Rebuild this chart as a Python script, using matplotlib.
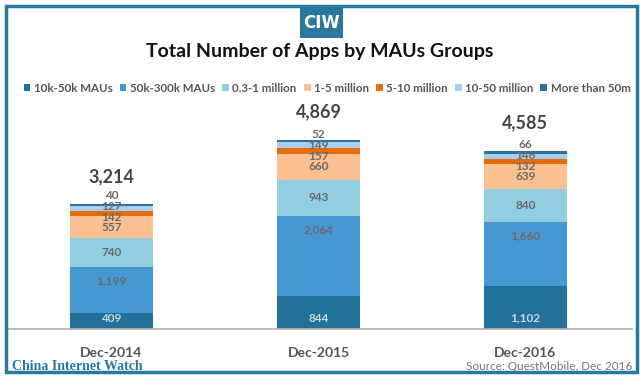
import numpy as np
import matplotlib.pyplot as plt
from matplotlib.patches import Patch, Rectangle

plt.rcParams['font.family'] = ['Lato', 'DejaVu Sans']

# 数据
years = ['Dec-2014', 'Dec-2015', 'Dec-2016']
groups = ['10k-50k MAUs', '50k-300k MAUs', '0.3-1 million', '1-5 million',
          '5-10 million', '10-50 million', 'More than 50m']
v_10k_50k = [409, 844, 1102]
v_50k_300k = [1199, 2064, 1660]
v_03_1m = [740, 943, 840]
v_1_5m = [557, 660, 639]
v_5_10m = [142, 157, 132]
v_10_50m = [127, 149, 146]
v_50m_plus = [40, 52, 66]
totals = [3214, 4869, 4585]

series = [v_10k_50k, v_50k_300k, v_03_1m, v_1_5m, v_5_10m, v_10_50m, v_50m_plus]
colors = ['#22719a', '#4598d2', '#92cde0', '#fac08f', '#e46c0a', '#a9cdee', '#2a7399']

W, H = 640, 386
fig = plt.figure(figsize=(W / 100, H / 100), dpi=100)

# 外框
fig.patches.append(Rectangle((6 / W, 14 / H), 631 / W, 366 / H, transform=fig.transFigure,
                             fill=False, edgecolor='#2a77a0', linewidth=2.5))
# CIW 标志
fig.patches.append(Rectangle((300 / W, 1 - 38 / H), 43 / W, 30 / H, transform=fig.transFigure,
                             facecolor='#2a77a0', edgecolor='none'))
fig.text(321.5 / W, 1 - 23 / H, 'CIW', color='white', fontsize=12, fontweight='bold',
         ha='center', va='center', family='Liberation Sans Narrow')

fig.text(0.5, 1 - 52 / H, 'Total Number of Apps by MAUs Groups', ha='center', va='center',
         fontsize=14, fontweight='bold', color='#111111')

ax = fig.add_axes([8 / W, 1 - 329 / H, 624 / W, 229 / H])
x = np.arange(len(years))
bottom = np.zeros(len(years))
# 1-5 million 段的中心，用于堆叠小段标签
mid_1_5m = np.array(v_10k_50k) + np.array(v_50k_300k) + np.array(v_03_1m) + np.array(v_1_5m) / 2
for i, (vals, c) in enumerate(zip(series, colors)):
    vals = np.array(vals)
    ax.bar(x, vals, 0.4, bottom=bottom, color=c, edgecolor='none')
    for j in range(len(years)):
        if i == 0:
            y, off, col = bottom[j], 11, '#cdd6de'
        elif i == 1:
            y, off, col = bottom[j] + vals[j], -14, '#6a6a6a'
        elif i in (2, 3):
            y, off, col = bottom[j] + vals[j] / 2, 0, '#6a6a6a'
        else:
            y, off, col = mid_1_5m[j], {4: 10, 5: 21, 6: 32}[i], '#6a6a6a'
        ax.annotate(f'{vals[j]:,}', (x[j], y), xytext=(0, off), textcoords='offset pixels',
                    ha='center', va='center', fontsize=8.5, color=col, fontweight='bold')
    bottom += vals

for j in range(len(years)):
    ax.annotate(f'{totals[j]:,}', (x[j], totals[j]), xytext=(0, 28), textcoords='offset pixels',
                ha='center', va='center', fontsize=13, fontweight='bold', color='#444444')

ax.set_xlim(-0.5, 2.515)
ax.set_ylim(0, 5900)
ax.set_xticks(x)
ax.set_xticklabels(years, fontsize=10, fontweight='bold', color='#555555')
ax.tick_params(axis='x', length=0, pad=13)
ax.set_yticks([])
for s in ['top', 'left', 'right']:
    ax.spines[s].set_visible(False)
ax.spines['bottom'].set_color('#b0b0b0')
ax.spines['bottom'].set_linewidth(1.2)
ax.patch.set_alpha(0)

handles = [Patch(facecolor=c, edgecolor='none') for c in colors]
fig.legend(handles, groups, loc='center', bbox_to_anchor=(327 / W, 1 - 88 / H), ncol=7,
           frameon=False, handlelength=0.6, handleheight=0.6, handletextpad=0.3,
           columnspacing=0.6, labelcolor='#555555', prop={'weight': 'bold', 'size': 8.3})

fig.text(12 / W, 1 - 366 / H, 'China Internet Watch', fontsize=10, fontweight='bold',
         family='Liberation Serif', color='#2a77a0', ha='left', va='center')
fig.text(632 / W, 1 - 367 / H, 'Source: QuestMobile, Dec 2016', fontsize=8.5, color='#777777',
         ha='right', va='center')

fig.savefig('out.png', dpi=100)
